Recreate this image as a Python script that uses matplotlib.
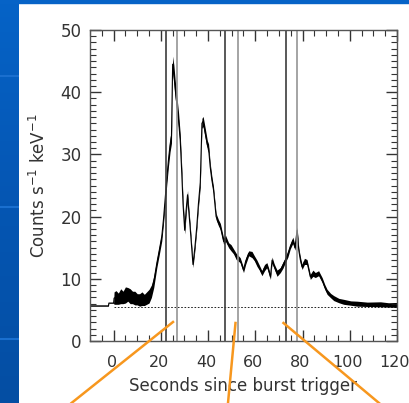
import numpy as np
import matplotlib.pyplot as plt
import matplotlib.transforms as mtransforms
from matplotlib.lines import Line2D
from matplotlib.colors import LinearSegmentedColormap
from matplotlib.ticker import MultipleLocator

plt.rcParams['font.family'] = ['DejaVu Sans']

# light curve: time (s), mean count rate, half-width of the noise band
t_sec = [-10, -2.2, -2.0, 0.0, 0.2, 1, 2, 3, 4, 5, 6, 7, 8, 9, 10, 11, 12, 13, 14, 15,
         16, 17, 18.3, 19.3, 20.4, 21.1, 21.8, 22.5, 23.2, 23.9, 24.5, 25.0, 25.5, 26.1,
         26.8, 27.5, 28.2, 28.8, 29.4, 30.1, 30.7, 31.3, 31.8, 32.4, 33.6, 34.4, 35.2,
         35.9, 36.7, 37.4, 37.9, 38.8, 39.7, 40.2, 40.9, 41.6, 42.3, 43.4, 44.4, 45.2,
         46.6, 47.4, 48.7, 49.7, 50.8, 51.9, 53.6, 55.0, 55.9, 57.2, 58.6, 59.6, 60.7,
         61.7, 62.8, 63.9, 64.9, 65.6, 66.4, 67.1, 68.0, 69.2, 70.6, 71.7, 72.7, 73.8,
         74.8, 75.9, 76.8, 77.7, 78.4, 79.1, 79.8, 80.8, 81.9, 82.6, 83.3, 84.4, 85.4,
         86.8, 88.3, 89.4, 90.4, 91.9, 93.2, 95.4, 97.4, 100.4, 103.1, 107.4, 113.0,
         116.4, 120.0]
rate = [5.65, 5.65, 6.1, 6.1, 6.9, 7.0, 6.8, 7.2, 7.0, 7.4, 7.5, 7.2, 7.0, 6.9, 6.7,
        6.6, 6.8, 6.6, 6.9, 7.2, 8.0, 9.5, 12.5, 14.5, 16.8, 19.5, 22.7, 26.0, 29.0, 31.5,
        33.0, 44.5, 43.0, 40.4, 38.0, 35.5, 32.3, 27.5, 22.0, 17.8, 21.0, 23.5, 21.0,
        18.3, 12.3, 15.0, 18.3, 22.0, 25.5, 35.0, 35.3, 33.4, 31.5, 31.0, 28.0, 25.9,
        24.3, 20.0, 19.0, 18.4, 16.0, 16.5, 15.4, 15.0, 14.4, 13.6, 13.0, 11.4, 12.8,
        14.1, 13.9, 13.3, 12.5, 11.8, 10.9, 11.8, 12.2, 11.4, 10.3, 13.0, 12.0, 10.9,
        11.4, 12.2, 13.0, 14.0, 15.2, 16.2, 15.0, 17.8, 14.6, 13.0, 11.9, 12.8, 12.7,
        11.5, 10.3, 10.9, 10.6, 10.9, 9.8, 8.7, 7.9, 7.3, 6.9, 6.5, 6.3, 6.1, 6.0, 5.9,
        5.9, 5.8, 5.8]
spread = [0.05, 0.05, 0.05, 0.05, 1.0, 1.1, 0.9, 1.2, 1.0, 1.3, 1.1, 1.2, 1.0, 1.1, 0.9,
          1.0, 1.1, 0.9, 1.0, 1.1, 1.0, 0.9, 0.7, 0.7, 0.7, 0.7, 0.8, 0.9, 1.0, 1.1, 1.2,
          1.3, 1.4, 1.4, 1.3, 1.2, 1.0, 0.9, 0.8, 0.6, 0.7, 0.7, 0.6, 0.5, 0.5, 0.5, 0.5,
          0.6, 0.7, 0.8, 0.8, 0.8, 0.7, 0.7, 0.6, 0.6, 0.5, 0.5, 0.5, 0.5, 0.5, 0.5, 0.4,
          0.5, 0.4, 0.5, 0.4, 0.4, 0.5, 0.4, 0.5, 0.4, 0.5, 0.4, 0.4, 0.5, 0.4, 0.4, 0.4,
          0.5, 0.4, 0.5, 0.4, 0.5, 0.4, 0.5, 0.4, 0.5, 0.4, 0.5, 0.4, 0.5, 0.4, 0.5, 0.4,
          0.4, 0.4, 0.5, 0.4, 0.4, 0.4, 0.4, 0.4, 0.35, 0.4, 0.35, 0.4, 0.35, 0.4, 0.35,
          0.4, 0.35, 0.4]
background = 5.5
# spectral interval boundaries (s)
interval_edges = [22.2, 27.0, 47.3, 52.6, 72.9, 77.8]

t = np.array(t_sec)
r = np.array(rate)
s = np.array(spread)

fig = plt.figure(figsize=(4.10, 4.03), dpi=100)
W, H = 410, 403

# slide background: blue strip on the left and top
bg = fig.add_axes([0, 0, 1, 1], zorder=-5)
bg.set_xlim(0, W)
bg.set_ylim(H, 0)
bg.axis('off')
grad = np.linspace(0, 1, 200).reshape(-1, 1)
blue = LinearSegmentedColormap.from_list('slide', ['#0663c7', '#0556b3', '#044ea3'])
bg.imshow(grad, extent=(0, 19, H, 0), aspect='auto', cmap=blue)
bg.fill_between([0, W], 0, 3, color='#0663c7')
for yb in (76, 207, 339):
    bg.plot([0, 19], [yb, yb], color='#1a6fcf', lw=1.5, solid_capstyle='butt')

ax = fig.add_axes([90 / W, 1 - 341 / H, 307 / W, 311 / H])
ax.set_facecolor('none')

ax.fill_between(t, r - s, r + s, color='black', lw=0)
ax.plot(t, r, color='black', lw=0.8)
ax.axhline(background, xmin=10 / 130, color='black', lw=0.6, ls=(0, (2, 2)))
for i, xe in enumerate(interval_edges):
    ax.axvline(xe, color='#3c3c3c' if i % 2 == 0 else '#959595', lw=1.2)

ax.set_xlim(-10, 120)
ax.set_ylim(0, 50)
ax.xaxis.set_major_locator(MultipleLocator(20))
ax.xaxis.set_minor_locator(MultipleLocator(5))
ax.yaxis.set_major_locator(MultipleLocator(10))
ax.yaxis.set_minor_locator(MultipleLocator(1))
ax.tick_params(which='both', direction='in', top=True, right=True,
               colors='#333333', labelsize=12)
ax.tick_params(axis='x', pad=10, labelsize=11.5)
ax.tick_params(axis='y', pad=6)
ax.tick_params(which='major', length=8, width=1)
ax.tick_params(which='minor', length=4, width=0.8)
for sp in ax.spines.values():
    sp.set_color('#555555')
    sp.set_linewidth(1)

# nudge the x tick labels a little to the left
shift = mtransforms.ScaledTranslation(-2 / 100, 0, fig.dpi_scale_trans)
for lab in ax.get_xticklabels():
    lab.set_transform(lab.get_transform() + shift)

ax.set_xlabel('Seconds since burst trigger', fontsize=12, color='#333333', labelpad=5)
ax.set_ylabel('Counts s$^{-1}$ keV$^{-1}$', fontsize=12, color='#333333', labelpad=8)

# orange pointers leading down from each interval
pointers = [((173, 322), (71.5, 403)),
            ((235.5, 323), (228, 403)),
            ((283.5, 323), (379, 403))]
for (x0, y0), (x1, y1) in pointers:
    fig.add_artist(Line2D([x0 / W, x1 / W], [1 - y0 / H, 1 - y1 / H],
                          color='#f7971e', lw=1.8, transform=fig.transFigure))

fig.savefig('out.png', dpi=100, facecolor='white')
